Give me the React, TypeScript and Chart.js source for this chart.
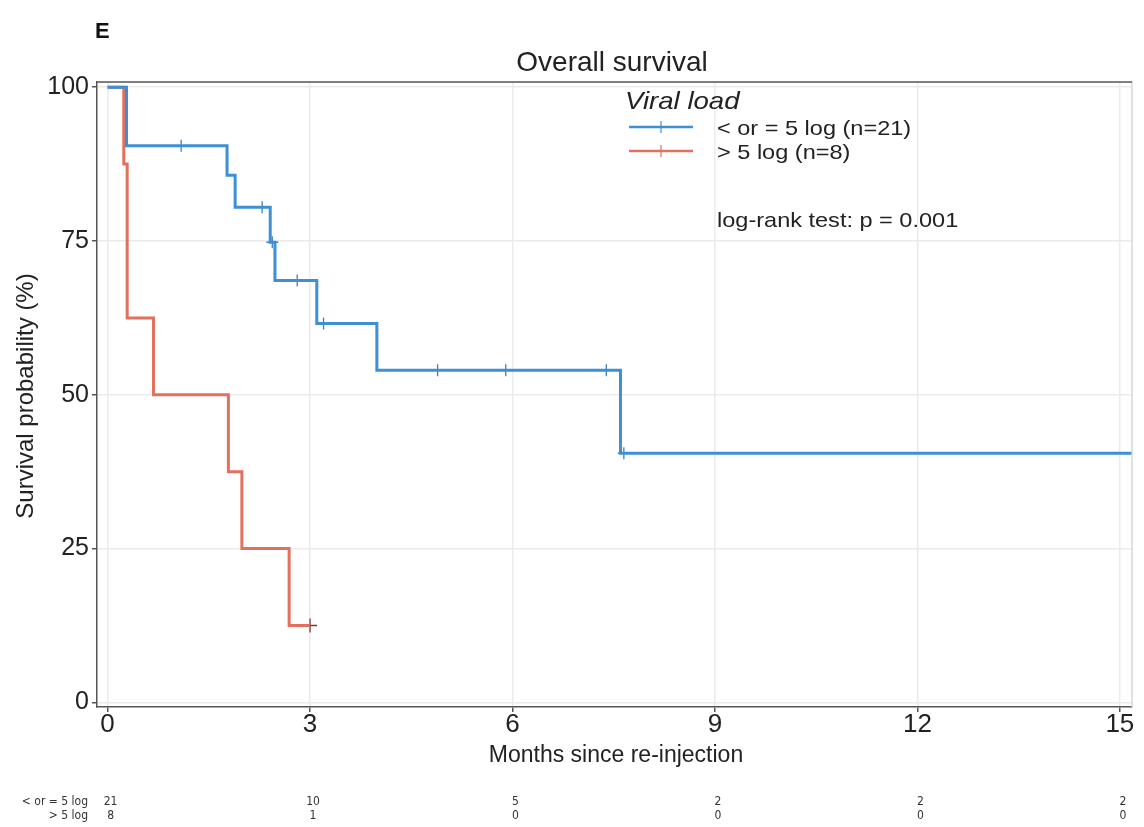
import React, { useEffect, useRef } from "react";
import { Chart, registerables } from "chart.js";

Chart.register(...registerables);

// Kaplan-Meier curve: "< or = 5 log (n=21)"
const lowTimes = [0, 0.28, 1.77, 1.89, 2.41, 2.48, 3.1, 3.99, 7.6, 15.18];
const lowSurv = [100, 90.5, 85.7, 80.5, 74.8, 68.6, 61.6, 54.0, 40.5, 40.5];
const lowCensorTimes = [1.09, 2.29, 2.44, 2.81, 3.2, 4.89, 5.9, 7.39, 7.65];
const lowCensorSurv = [90.5, 80.5, 74.8, 68.6, 61.6, 54.0, 54.0, 54.0, 40.5];

// Kaplan-Meier curve: "> 5 log (n=8)"
const highTimes = [0, 0.24, 0.29, 0.68, 1.79, 1.99, 2.69, 3.0];
const highSurv = [100, 87.5, 62.5, 50, 37.5, 25, 12.5, 12.5];
const highCensorTimes = [3.0];
const highCensorSurv = [12.5];

const xTickValues = [0, 3, 6, 9, 12, 15];
const yTickValues = [0, 25, 50, 75, 100];

const seriesNames = ["< or = 5 log (n=21)", "> 5 log (n=8)"];
const riskRowLabels = ["< or = 5 log", "> 5 log"];
const riskTimes = [0, 3, 6, 9, 12, 15];
const riskLow = [21, 10, 5, 2, 2, 2];
const riskHigh = [8, 1, 0, 0, 0, 0];

const BLUE = "#3d8fd6";
const RED = "#e2705e";
const SANS = '"Liberation Sans", Arial, sans-serif';
const NARROW = '"Liberation Sans Narrow", "DejaVu Sans Condensed", "Liberation Sans", sans-serif';

const toPoints = (xs: number[], ys: number[]) => xs.map((x, i) => ({ x, y: ys[i] }));

function stretchText(ctx: CanvasRenderingContext2D, text: string, x: number, y: number, sx: number) {
  ctx.save();
  ctx.translate(x, y);
  ctx.scale(sx, 1);
  ctx.fillText(text, 0, 0);
  ctx.restore();
}

const decorPlugin = {
  id: "decor",
  afterDraw(chart: any) {
    const ctx: CanvasRenderingContext2D = chart.ctx;
    const area = chart.chartArea;
    const xs = chart.scales.x;
    ctx.save();
    // borders
    ctx.strokeStyle = "#d6d6d6";
    ctx.lineWidth = 1.5;
    ctx.beginPath();
    ctx.moveTo(area.right, area.top);
    ctx.lineTo(area.right, area.bottom);
    ctx.stroke();
    ctx.strokeStyle = "#555";
    ctx.beginPath();
    ctx.moveTo(area.left, area.top);
    ctx.lineTo(area.right, area.top);
    ctx.stroke();

    // panel letter
    ctx.fillStyle = "#111";
    ctx.textBaseline = "alphabetic";
    ctx.textAlign = "left";
    ctx.font = `bold 22px ${SANS}`;
    ctx.fillText("E", 95, 38);

    // title
    ctx.fillStyle = "#222";
    ctx.font = `28px ${SANS}`;
    ctx.textAlign = "center";
    ctx.fillText("Overall survival", 612, 71);

    // x title
    ctx.font = `23px ${SANS}`;
    ctx.fillText("Months since re-injection", 616, 762);

    // y title
    ctx.save();
    ctx.translate(33, 396);
    ctx.rotate(-Math.PI / 2);
    ctx.font = `24px ${SANS}`;
    ctx.fillText("Survival probability (%)", 0, 0);
    ctx.restore();

    // legend
    ctx.textAlign = "left";
    ctx.fillStyle = "#222";
    ctx.font = `italic 24px ${SANS}`;
    stretchText(ctx, "Viral load", 625, 109, 1.15);
    const legendY = [127, 151];
    const colors = [BLUE, RED];
    ctx.font = `21px ${SANS}`;
    seriesNames.forEach((name, i) => {
      ctx.strokeStyle = colors[i];
      ctx.lineWidth = 2.5;
      ctx.beginPath();
      ctx.moveTo(629, legendY[i]);
      ctx.lineTo(693, legendY[i]);
      ctx.stroke();
      ctx.lineWidth = 1.2;
      ctx.beginPath();
      ctx.moveTo(661, legendY[i] - 6);
      ctx.lineTo(661, legendY[i] + 6);
      ctx.stroke();
      ctx.fillStyle = "#222";
      stretchText(ctx, name, 717, legendY[i] + 8, 1.12);
    });
    stretchText(ctx, "log-rank test: p = 0.001", 717, 227, 1.12);

    // risk table
    ctx.font = `12px ${NARROW}`;
    ctx.fillStyle = "#333";
    ctx.textAlign = "right";
    ctx.fillText(riskRowLabels[0], 88, 805);
    ctx.fillText(riskRowLabels[1], 88, 819);
    ctx.textAlign = "center";
    riskTimes.forEach((t, i) => {
      const px = xs.getPixelForValue(t) + 3;
      ctx.fillText(String(riskLow[i]), px, 805);
      ctx.fillText(String(riskHigh[i]), px, 819);
    });
    ctx.restore();
  },
};

export default function App() {
  const ref = useRef<HTMLCanvasElement | null>(null);
  useEffect(() => {
    if (!ref.current) return;
    const chart = new Chart(ref.current, {
      type: "line",
      data: {
        datasets: [
          {
            label: seriesNames[0],
            data: toPoints(lowTimes, lowSurv),
            borderColor: BLUE,
            borderWidth: 3,
            stepped: true,
            pointRadius: 0,
            fill: false,
          },
          {
            label: seriesNames[1],
            data: toPoints(highTimes, highSurv),
            borderColor: RED,
            borderWidth: 3,
            stepped: true,
            pointRadius: 0,
            fill: false,
          },
          {
            label: "censor-low",
            data: toPoints(lowCensorTimes, lowCensorSurv),
            showLine: false,
            pointStyle: "cross",
            pointRadius: 6,
            pointBorderWidth: 1.3,
            pointBorderColor: "#3a80c0",
            borderColor: "#3a80c0",
          },
          {
            label: "censor-high",
            data: toPoints(highCensorTimes, highCensorSurv),
            showLine: false,
            pointStyle: "cross",
            pointRadius: 7,
            pointBorderWidth: 1.3,
            pointBorderColor: "#7a3a30",
            borderColor: "#7a3a30",
          },
        ],
      },
      options: {
        animation: false,
        responsive: false,
        maintainAspectRatio: false,
        layout: { padding: { left: 0, right: 12, top: 82, bottom: 0 } },
        plugins: { legend: { display: false }, tooltip: { enabled: false }, title: { display: false } },
        scales: {
          x: {
            type: "linear",
            min: -0.157,
            max: 15.18,
            bounds: "data",
            afterBuildTicks: (s: any) => {
              s.ticks = xTickValues.map((v) => ({ value: v }));
            },
            afterFit: (s: any) => {
              s.height = 120;
            },
            grid: { color: "#ebebeb", lineWidth: 1.5, tickLength: 5, tickColor: "#555" },
            border: { color: "#555", width: 1.5 },
            ticks: {
              font: { family: SANS, size: 26 },
              color: "#222",
              padding: -3,
              maxRotation: 0,
              autoSkip: false,
              callback: (v: any) => String(v),
            },
          },
          y: {
            type: "linear",
            min: -0.75,
            max: 100.85,
            bounds: "data",
            afterBuildTicks: (s: any) => {
              s.ticks = yTickValues.map((v) => ({ value: v }));
            },
            afterFit: (s: any) => {
              s.width = 97;
            },
            grid: { color: "#ebebeb", lineWidth: 1.5, tickLength: 5, tickColor: "#555" },
            border: { color: "#555", width: 1.5 },
            ticks: {
              font: { family: SANS, size: 25 },
              color: "#222",
              padding: 3,
              autoSkip: false,
              callback: (v: any) => String(v),
            },
          },
        },
      },
      plugins: [decorPlugin],
    });
    return () => chart.destroy();
  }, []);
  return (
    <div style={{ position: "absolute", left: 0, top: 0, width: 1144, height: 827, background: "#fff" }}>
      <canvas ref={ref} width={1144} height={827} style={{ display: "block", width: 1144, height: 827 }} />
    </div>
  );
}
